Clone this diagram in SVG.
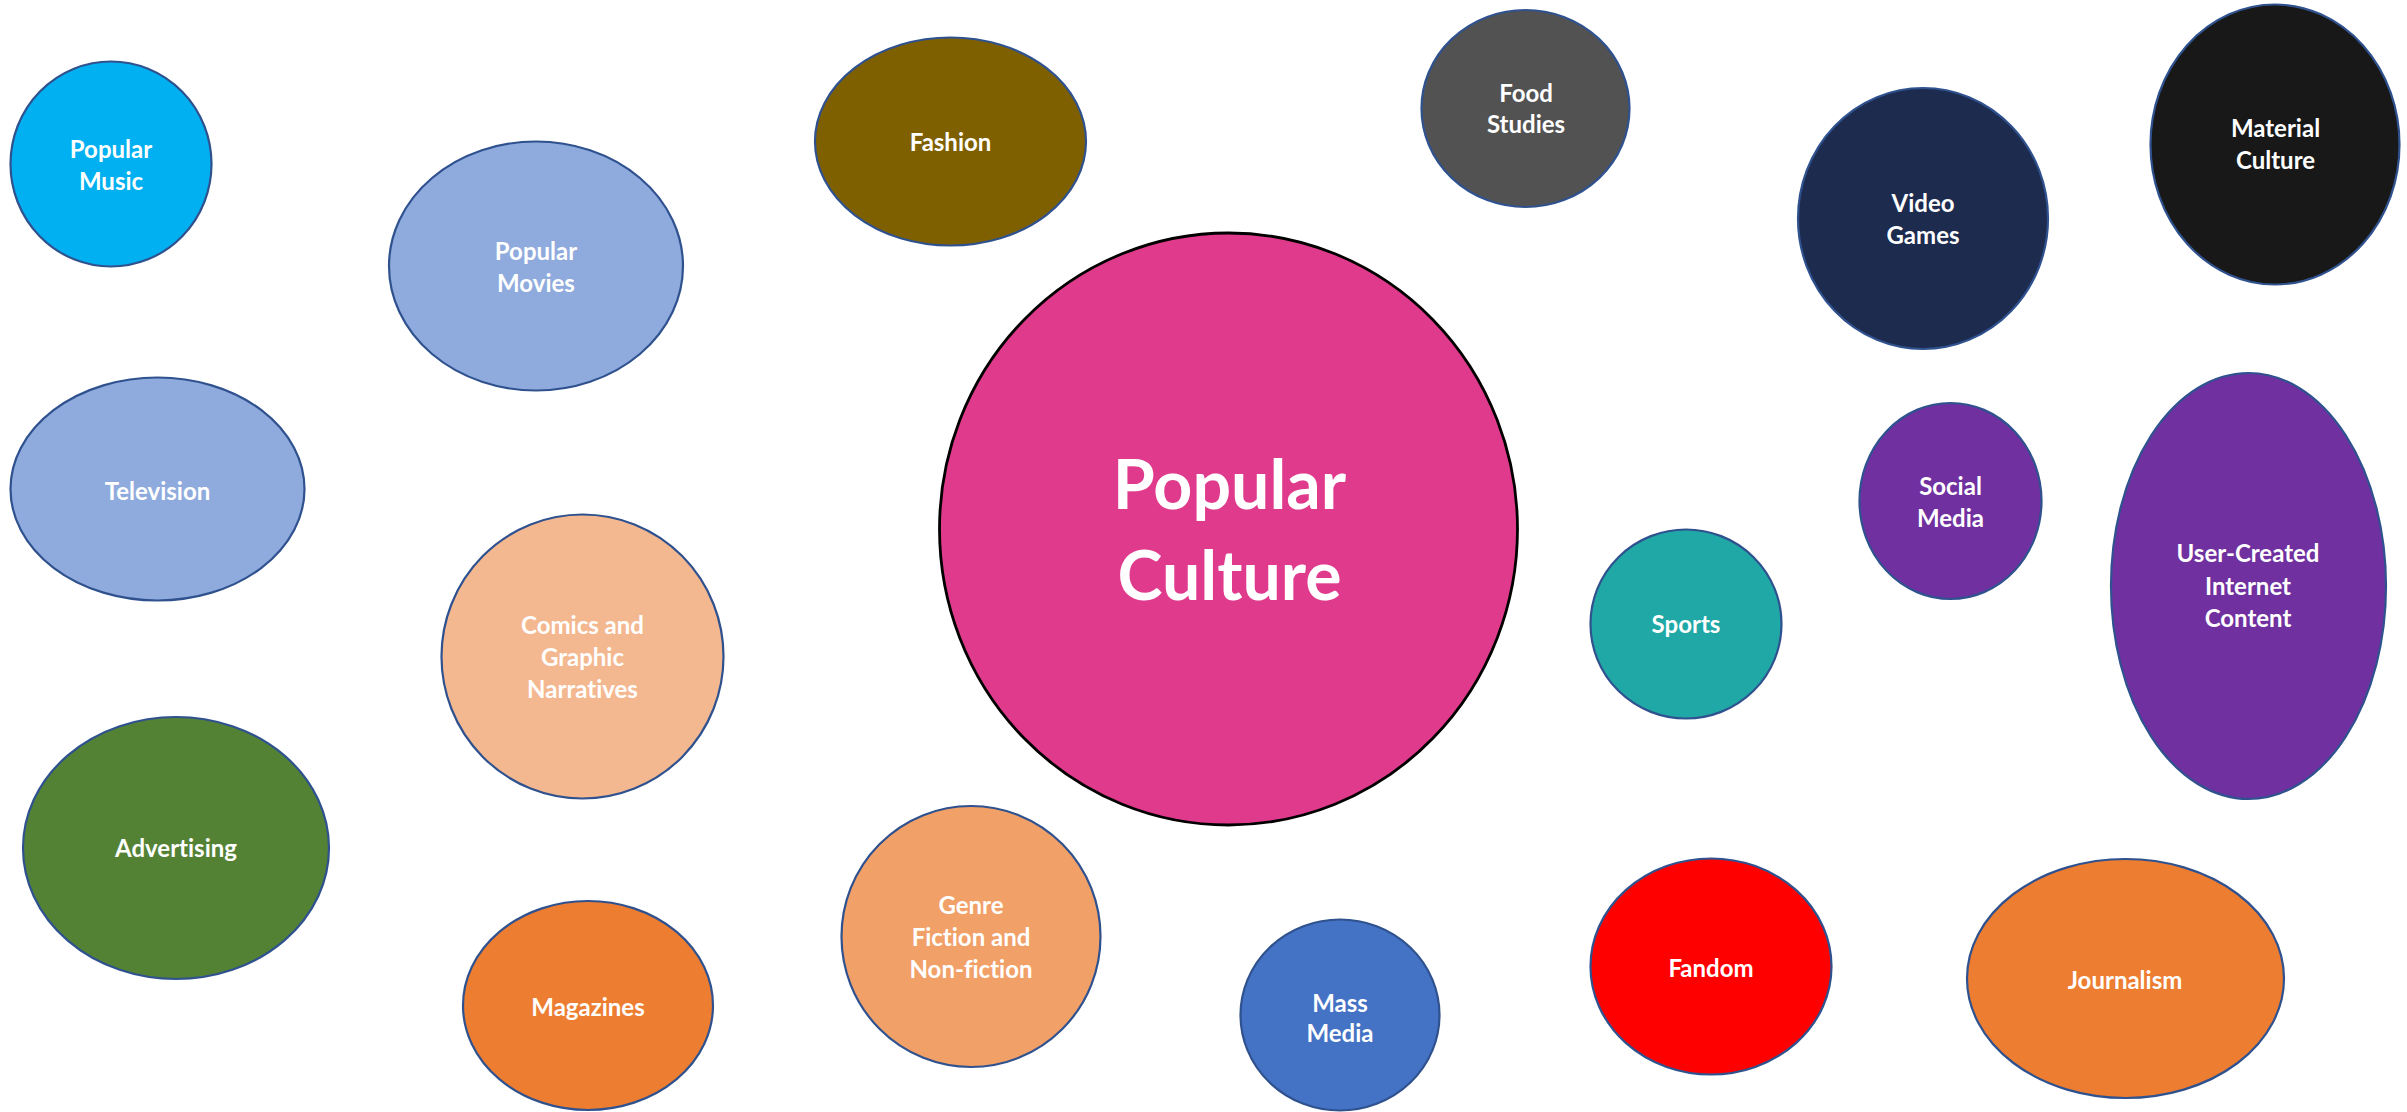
<svg xmlns="http://www.w3.org/2000/svg" width="2407" height="1112" viewBox="0 0 2407 1112">
<style>
  .n { stroke: #2F528F; stroke-width: 2.2; }
  .core { stroke: #000000; stroke-width: 2.8; }
  text { font-family: Lato, "Liberation Sans", "Noto Sans", sans-serif; font-weight: bold; fill: #FFFFFF; text-anchor: middle; font-size: 24px; font-variant-ligatures: none; }
  .big { font-size: 68px; }
</style>
<rect x="0" y="0" width="2407" height="1112" fill="#FFFFFF"/>
<g id="connectors"/>
<g id="popular-music"><ellipse class="n" cx="111" cy="164" rx="100.5" ry="102.5" fill="#00B0F0"/><text x="111" y="158">Popular</text><text x="111" y="190">Music</text></g>
<g id="popular-movies"><ellipse class="n" cx="536" cy="266" rx="147" ry="124.5" fill="#8FAADC"/><text x="536" y="260">Popular</text><text x="536" y="292">Movies</text></g>
<g id="television"><ellipse class="n" cx="157.5" cy="489" rx="147" ry="111.5" fill="#8FAADC"/><text x="157.5" y="500">Television</text></g>
<g id="comics"><ellipse class="n" cx="582.5" cy="656.5" rx="141" ry="142" fill="#F4B890"/><text x="582.5" y="634">Comics and</text><text x="582.5" y="666">Graphic</text><text x="582.5" y="698">Narratives</text></g>
<g id="advertising"><ellipse class="n" cx="176" cy="848" rx="153" ry="131" fill="#548235"/><text x="176" y="857">Advertising</text></g>
<g id="magazines"><ellipse class="n" cx="588" cy="1005.5" rx="125" ry="104.5" fill="#ED7D31"/><text x="588" y="1016">Magazines</text></g>
<g id="fashion"><ellipse class="n" cx="950.5" cy="141.5" rx="135.5" ry="104" fill="#7F6000"/><text x="950.5" y="151">Fashion</text></g>
<g id="food-studies"><ellipse class="n" cx="1525.5" cy="108.5" rx="104" ry="98.5" fill="#525252"/><text x="1526" y="102">Food</text><text x="1526" y="133">Studies</text></g>
<g id="popular-culture"><ellipse class="core" cx="1228.5" cy="529" rx="289" ry="296" fill="#E03A8D"/><text class="big" x="1229.5" y="509">Popular</text><text class="big" x="1229.5" y="600">Culture</text></g>
<g id="genre-fiction"><ellipse class="n" cx="971" cy="936.5" rx="129.5" ry="130.5" fill="#F1A068"/><text x="971" y="913.5">Genre</text><text x="971" y="945.5">Fiction and</text><text x="971" y="977.5">Non-fiction</text></g>
<g id="mass-media"><ellipse class="n" cx="1340" cy="1015" rx="99.5" ry="95.5" fill="#4472C4"/><text x="1340" y="1011.5">Mass</text><text x="1340" y="1042">Media</text></g>
<g id="video-games"><ellipse class="n" cx="1923" cy="218.5" rx="125" ry="130.5" fill="#1D2B4F"/><text x="1923" y="212">Video</text><text x="1923" y="243.5">Games</text></g>
<g id="material-culture"><ellipse class="n" cx="2275" cy="144.5" rx="124.5" ry="140" fill="#181818"/><text x="2275.5" y="137">Material</text><text x="2275.5" y="168.5">Culture</text></g>
<g id="social-media"><ellipse class="n" cx="1950.5" cy="501" rx="91" ry="98" fill="#7030A0"/><text x="1950.5" y="494.5">Social</text><text x="1950.5" y="527">Media</text></g>
<g id="sports"><ellipse class="n" cx="1686" cy="624" rx="95.5" ry="94.5" fill="#20A8A6"/><text x="1686" y="633">Sports</text></g>
<g id="user-created"><ellipse class="n" cx="2248.5" cy="586" rx="137.5" ry="213" fill="#7030A0"/><text x="2248" y="562">User-Created</text><text x="2248" y="594.5">Internet</text><text x="2248" y="626.5">Content</text></g>
<g id="fandom"><ellipse class="n" cx="1711" cy="966.5" rx="120.5" ry="108" fill="#FF0000"/><text x="1711" y="976.5">Fandom</text></g>
<g id="journalism"><ellipse class="n" cx="2125.5" cy="978.5" rx="158.5" ry="119.5" fill="#ED7D31"/><text x="2125" y="988.5">Journalism</text></g>
</svg>
